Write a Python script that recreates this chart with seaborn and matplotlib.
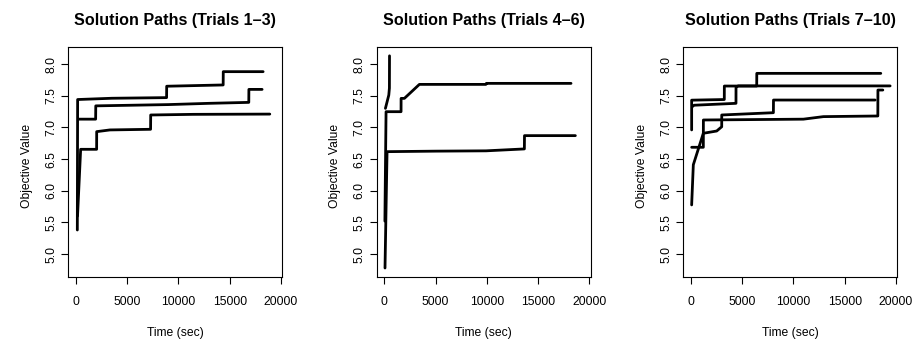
import matplotlib
matplotlib.use("Agg")
import matplotlib.pyplot as plt
import seaborn as sns
import pandas as pd

# ---- data (time in sec, objective value) ----
titles = ["Solution Paths (Trials 1\u20133)", "Solution Paths (Trials 4\u20136)",
          "Solution Paths (Trials 7\u201310)"]

trial1_t = [130, 160, 3500, 8840, 8850, 14360, 14370, 18260]
trial1_v = [5.38, 7.44, 7.46, 7.47, 7.65, 7.67, 7.88, 7.88]
trial2_t = [250, 1917, 1930, 9000, 13000, 16860, 16870, 18160]
trial2_v = [7.13, 7.13, 7.34, 7.36, 7.38, 7.395, 7.60, 7.60]
trial3_t = [150, 455, 2014, 2020, 3314, 7278, 7290, 11437, 18910]
trial3_v = [5.60, 6.654, 6.654, 6.933, 6.96, 6.97, 7.196, 7.206, 7.21]

trial4_t = [100, 430, 490, 500]
trial4_v = [7.30, 7.51, 7.62, 8.13]
trial5_t = [50, 70, 163, 1626, 1630, 1951, 3415, 9900, 9950, 18211]
trial5_v = [5.52, 5.85, 7.248, 7.248, 7.458, 7.458, 7.679, 7.679, 7.695, 7.695]
trial6_t = [60, 260, 5000, 9919, 13658, 13670, 18634]
trial6_v = [4.78, 6.617, 6.625, 6.63, 6.66, 6.87, 6.87]

trial7_t = [65, 65, 3250, 3255, 6412, 6420, 18520]
trial7_v = [6.96, 7.43, 7.44, 7.653, 7.653, 7.853, 7.853]
trial8_t = [150, 300, 4390, 4394, 4600, 19430]
trial8_v = [7.33, 7.35, 7.38, 7.63, 7.655, 7.655]
trial9_t = [65, 228, 1204, 2510, 2998, 3000, 8040, 8050, 17970]
trial9_v = [5.776, 6.41, 6.907, 6.943, 7.01, 7.196, 7.232, 7.432, 7.432]
trial10_t = [65, 1204, 1210, 10970, 12920, 18230, 18240, 18720]
trial10_v = [6.686, 6.686, 7.117, 7.13, 7.17, 7.18, 7.59, 7.59]

panels = [
    [(1, trial1_t, trial1_v), (2, trial2_t, trial2_v), (3, trial3_t, trial3_v)],
    [(4, trial4_t, trial4_v), (5, trial5_t, trial5_v), (6, trial6_t, trial6_v)],
    [(7, trial7_t, trial7_v), (8, trial8_t, trial8_v), (9, trial9_t, trial9_v),
     (10, trial10_t, trial10_v)],
]

x_ticks = [0, 5000, 10000, 15000, 20000]
y_ticks = [5.0, 5.5, 6.0, 6.5, 7.0, 7.5, 8.0]
y_ticklabels = ["5.0", "5.5", "6.0", "6.5", "7.0", "7.5", "8.0"]

# ---- style ----
sns.set_theme(style="white")
plt.rcParams["font.family"] = ["Liberation Sans", "DejaVu Sans"]

W, H = 914, 339
fig = plt.figure(figsize=(W / 100, H / 100), dpi=100)

lefts_px = [68.3, 376.7, 683.3]
ax_w_px = 214.0
top_px, bot_px = 46.7, 276.5

for i, (left_px, trials) in enumerate(zip(lefts_px, panels)):
    ax = fig.add_axes([left_px / W, 1 - bot_px / H, ax_w_px / W, (bot_px - top_px) / H])
    rows = []
    for tid, ts, vs in trials:
        for k, (t, v) in enumerate(zip(ts, vs)):
            rows.append({"trial": tid, "order": k, "t": t, "v": v})
    df = pd.DataFrame(rows)
    sns.lineplot(data=df, x="t", y="v", units="trial", estimator=None, sort=False,
                 color="black", lw=2.0, ax=ax, legend=False,
                 solid_capstyle="round", solid_joinstyle="round")
    ax.set_xlim(-750, 20130)
    ax.set_ylim(4.646, 8.274)
    ax.set_xticks(x_ticks)
    ax.set_xticklabels([str(x) for x in x_ticks])
    ax.set_yticks(y_ticks)
    ax.set_yticklabels(y_ticklabels)
    ax.tick_params(axis="both", which="major", direction="out", length=5, width=0.8,
                   color="black", labelsize=8.7, labelcolor="black", bottom=True, left=True)
    ax.tick_params(axis="x", pad=9)
    ax.tick_params(axis="y", pad=3, labelrotation=90)
    for lab in ax.get_yticklabels():
        lab.set_va("center")
    for sp in ax.spines.values():
        sp.set_visible(True)
        sp.set_color("black")
        sp.set_linewidth(0.8)
    ax.set_xlabel("Time (sec)", fontsize=8.7, color="black")
    ax.set_ylabel("Objective Value", fontsize=8.7, color="black")
    ax.xaxis.set_label_coords(0.5, -0.245)
    ax.xaxis.label.set_va("center")
    ax.yaxis.set_label_coords(-0.195, 0.481)
    ax.yaxis.label.set_va("center")
    ax.yaxis.label.set_ha("center")
    ax.set_title(titles[i], fontsize=11.6, fontweight="bold", color="black",
                 y=1.114, va="center", pad=0)
    ax.grid(False)

fig.savefig("out.png", dpi=100, facecolor="white")
